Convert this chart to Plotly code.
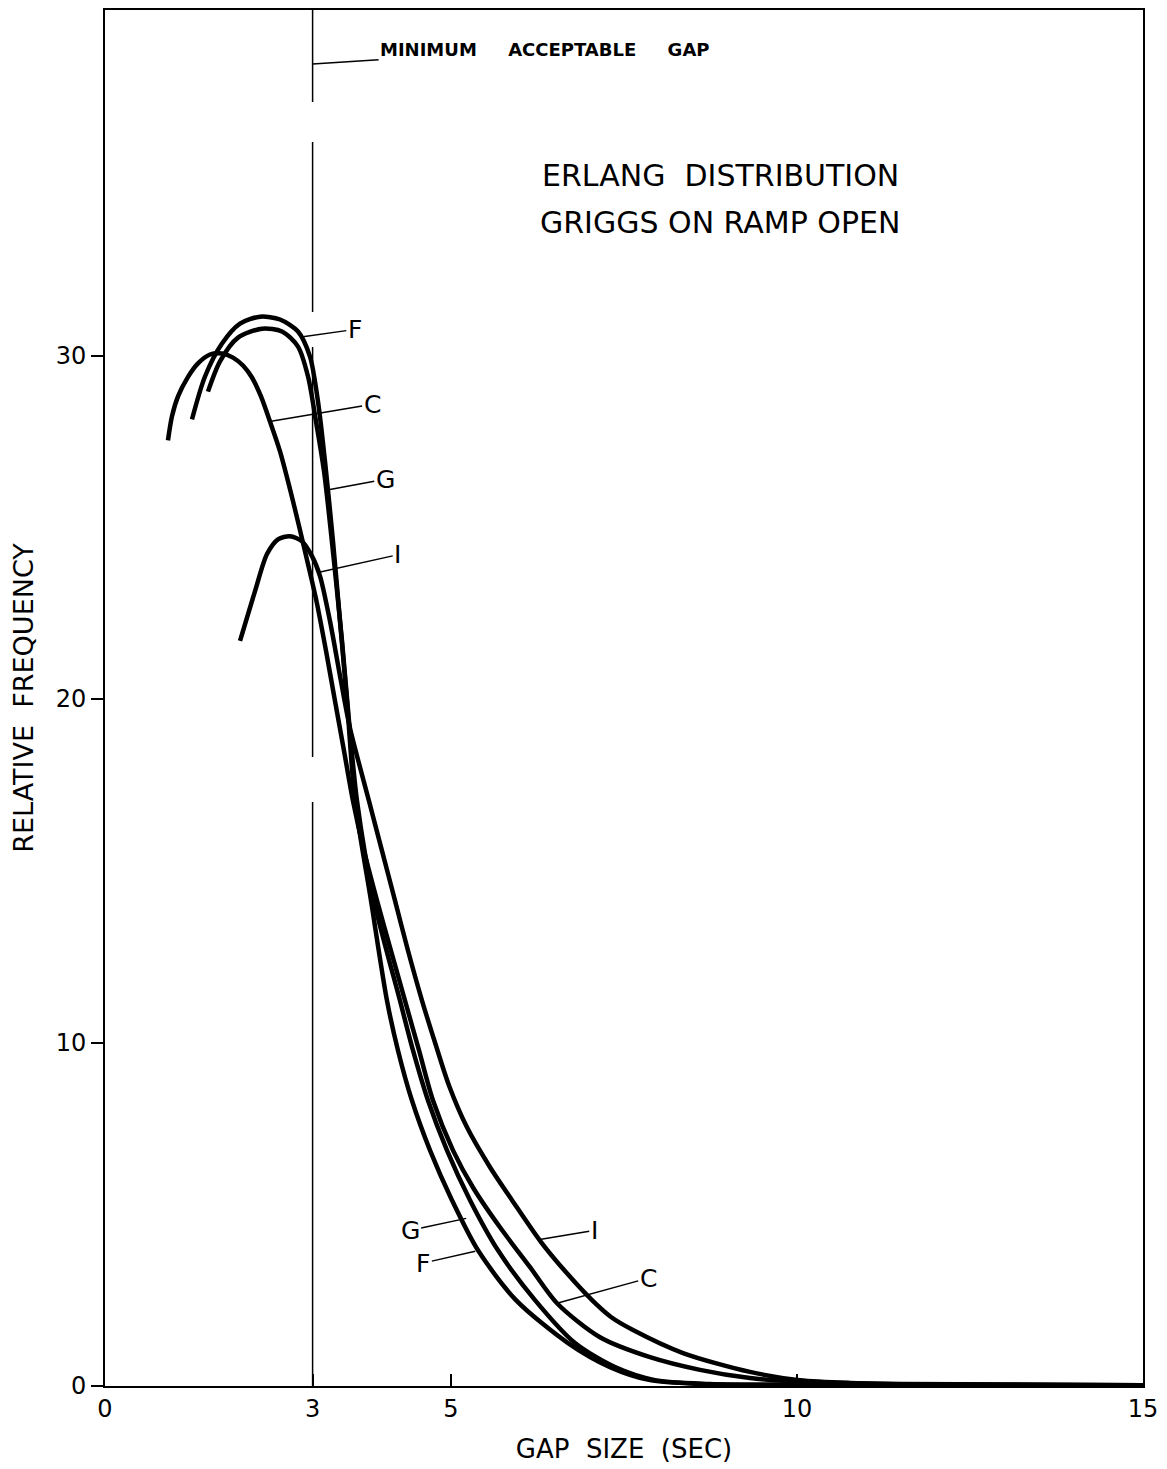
import plotly.graph_objects as go

# Curves (gap size in sec, relative frequency)
F_X = [1.257, 1.445, 1.691, 1.951, 2.240, 2.529, 2.789, 2.962, 3.078, 3.179, 3.295, 3.396, 3.497, 3.613,
       3.844, 4.075, 4.234, 4.436, 4.697, 5.014, 5.390, 5.939, 6.691, 7.298, 7.876, 8.598, 10.04, 15.0]
F_Y = [28.14, 29.39, 30.35, 30.93, 31.13, 31.05, 30.70, 29.97, 28.66, 26.92, 24.59, 22.27, 19.94, 17.03,
       14.13, 11.22, 9.77, 8.31, 6.86, 5.41, 3.95, 2.50, 1.25, 0.55, 0.17, 0.06, 0.03, 0.02]

G_X = [1.488, 1.662, 1.922, 2.269, 2.558, 2.789, 2.934, 3.049, 3.165, 3.309, 3.425, 3.526, 3.642, 3.887,
       4.263, 4.451, 4.668, 4.942, 5.275, 5.679, 6.214, 6.792, 7.370, 7.948, 8.743, 10.04, 15.0]
G_Y = [28.95, 29.83, 30.52, 30.78, 30.70, 30.26, 29.39, 28.08, 26.63, 24.01, 21.69, 19.36, 17.03, 14.13,
       11.22, 9.77, 8.31, 6.86, 5.41, 3.95, 2.50, 1.25, 0.55, 0.17, 0.06, 0.03, 0.02]

C_X = [0.910, 0.968, 1.055, 1.185, 1.344, 1.517, 1.691, 1.850, 1.994, 2.124, 2.254, 2.384, 2.529, 2.717,
       2.890, 3.056, 3.194, 3.324, 3.454, 3.584, 3.743, 3.931, 4.133, 4.335, 4.538, 4.740, 5.029, 5.318,
       5.708, 6.142, 6.532, 7.153, 7.876, 8.598, 9.321, 10.04, 11.49, 15.0]
C_Y = [27.53, 28.23, 28.81, 29.33, 29.77, 30.03, 30.06, 29.94, 29.71, 29.36, 28.81, 28.08, 27.21, 25.76,
       24.30, 22.85, 21.40, 19.94, 18.49, 17.03, 15.58, 14.13, 12.67, 11.22, 9.77, 8.31, 6.86, 5.78,
       4.62, 3.46, 2.41, 1.42, 0.84, 0.47, 0.23, 0.12, 0.06, 0.02]

I_X = [1.951, 2.168, 2.341, 2.500, 2.673, 2.847, 2.991, 3.107, 3.251, 3.410, 3.540, 3.815, 4.003, 4.191,
       4.379, 4.581, 4.769, 4.971, 5.231, 5.564, 5.882, 6.301, 6.676, 7.038, 7.312, 7.630, 8.353, 9.321,
       10.04, 10.77, 12.21, 15.0]
I_Y = [21.69, 23.14, 24.22, 24.65, 24.74, 24.59, 24.16, 23.58, 22.27, 20.52, 19.16, 17.03, 15.58, 14.13,
       12.67, 11.22, 10.0, 8.75, 7.53, 6.37, 5.41, 4.19, 3.28, 2.50, 2.01, 1.63, 0.96, 0.41,
       0.17, 0.09, 0.04, 0.02]

MIN_GAP = 3
X_TICKS = [0, 3, 5, 10, 15]
Y_TICKS = [0, 10, 20, 30]

FONT = "DejaVu Sans"
INK = "black"

fig = go.Figure()
for xs, ys in [(C_X, C_Y), (I_X, I_Y), (G_X, G_Y), (F_X, F_Y)]:
    fig.add_trace(go.Scatter(x=xs, y=ys, mode="lines",
                             line=dict(color=INK, width=4.5, shape="spline", smoothing=0.8),
                             showlegend=False, hoverinfo="skip"))

# minimum acceptable gap line (broken in a few places, as drawn)
fig.add_shape(type="line", xref="x", yref="paper", x0=MIN_GAP, x1=MIN_GAP, y0=1, y1=0,
              line=dict(color=INK, width=1.5, dash="92px,40px,170px,35px,410px,45px,700px"))

# curve labels: (text, label x, label y, tip x, tip y)
labels = [
    ("F", 3.61, 30.76, 2.86, 30.55),
    ("C", 3.86, 28.58, 2.38, 28.08),
    ("G", 4.05, 26.4, 3.25, 26.1),
    ("I", 4.23, 24.2, 3.11, 23.7),
    ("G", 4.41, 4.53, 5.22, 4.88),
    ("F", 4.60, 3.58, 5.35, 3.92),
    ("I", 7.07, 4.53, 6.26, 4.26),
    ("C", 7.85, 3.14, 6.53, 2.41),
]
for txt, lx, ly, tx, ty in labels:
    fig.add_annotation(x=tx, y=ty, ax=lx, ay=ly, axref="x", ayref="y", text=txt,
                       showarrow=True, arrowhead=0, arrowwidth=1.5, arrowcolor=INK,
                       standoff=0, font=dict(family=FONT, size=25, color=INK))

nb = "\u00a0" * 5
fig.add_annotation(x=MIN_GAP, y=38.49, ax=6.36, ay=38.92, axref="x", ayref="y",
                   text="<b>MINIMUM" + nb + "ACCEPTABLE" + nb + "GAP</b>",
                   showarrow=True, arrowhead=0, arrowwidth=1.5, arrowcolor=INK, standoff=0,
                   font=dict(family=FONT, size=18, color=INK))

fig.add_annotation(x=8.89, y=35.25, xref="x", yref="y", showarrow=False,
                   text="ERLANG\u00a0\u00a0DISTRIBUTION", font=dict(family=FONT, size=30, color=INK))
fig.add_annotation(x=8.89, y=33.88, xref="x", yref="y", showarrow=False,
                   text="GRIGGS ON RAMP OPEN", font=dict(family=FONT, size=30, color=INK))

fig.update_xaxes(range=[0, 15], tickvals=X_TICKS, ticktext=[str(v) for v in X_TICKS],
                 ticks="inside", ticklen=12, tickwidth=1.5, tickcolor=INK,
                 showline=True, linecolor=INK, linewidth=2, mirror=True,
                 showgrid=False, zeroline=False,
                 tickfont=dict(family=FONT, size=24, color=INK),
                 title=dict(text="GAP\u00a0\u00a0SIZE\u00a0\u00a0(SEC)", standoff=18,
                            font=dict(family=FONT, size=26, color=INK)))
fig.update_yaxes(range=[0, 40.06], tickvals=Y_TICKS, ticktext=[str(v) for v in Y_TICKS],
                 ticks="outside", ticklen=12, tickwidth=2, tickcolor=INK,
                 showline=True, linecolor=INK, linewidth=2, mirror=True,
                 showgrid=False, zeroline=False,
                 tickfont=dict(family=FONT, size=24, color=INK),
                 title=dict(text="RELATIVE\u00a0\u00a0FREQUENCY", standoff=15,
                            font=dict(family=FONT, size=27, color=INK)))

# the page adds an 8px body margin, so the figure is sized to fit the window
fig.update_layout(width=1159, height=1461, plot_bgcolor="white", paper_bgcolor="white",
                  margin=dict(l=97, r=24, t=0, b=83), showlegend=False)

fig.write_html("out.html")
